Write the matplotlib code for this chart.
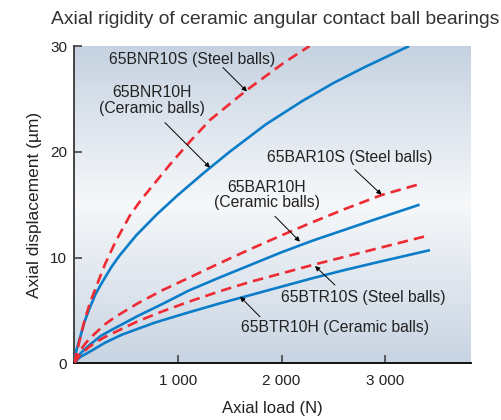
import numpy as np
import matplotlib
matplotlib.use("Agg")
import matplotlib.pyplot as plt
from matplotlib.colors import LinearSegmentedColormap

plt.rcParams['font.family'] = ['Liberation Sans', 'DejaVu Sans']

# ---- data (axial load N, axial displacement um) ----
bnr10h_x = [0, 25, 60, 100, 150, 210, 280, 360, 440, 600, 800, 1000, 1250, 1500, 1850, 2200, 2500, 2800, 3230]
bnr10h_y = [0, 1.3, 2.5, 3.9, 5.2, 6.6, 7.8, 9.1, 10.2, 12.1, 14.1, 15.9, 18.0, 20.0, 22.6, 24.8, 26.5, 28.0, 30.0]

bnr10s_x = [0, 40, 100, 150, 200, 300, 400, 540, 650, 925, 1120, 1310, 1660, 2020, 2270]
bnr10s_y = [0, 1.6, 4.0, 5.6, 6.9, 9.4, 11.5, 14.0, 15.5, 18.8, 21.0, 23.0, 25.8, 28.4, 30.0]

bar10s_x = [0, 50, 120, 200, 300, 400, 620, 850, 1100, 1400, 1700, 2000, 2300, 2600, 2960, 3350]
bar10s_y = [0, 1.1, 2.0, 2.8, 3.7, 4.4, 5.7, 6.9, 8.05, 9.45, 10.8, 12.1, 13.35, 14.55, 15.9, 17.0]

bar10h_x = [0, 50, 100, 170, 260, 370, 620, 850, 1100, 1400, 1700, 2000, 2300, 2600, 2900, 3330]
bar10h_y = [0, 0.8, 1.3, 1.9, 2.6, 3.2, 4.5, 5.6, 6.85, 8.1, 9.3, 10.5, 11.6, 12.6, 13.6, 15.0]

btr10s_x = [0, 60, 140, 220, 300, 620, 850, 1100, 1400, 1700, 2000, 2300, 2600, 2900, 3380]
btr10s_y = [0, 0.8, 1.5, 2.05, 2.5, 4.0, 4.9, 5.8, 6.8, 7.7, 8.5, 9.3, 10.05, 10.8, 12.0]

btr10h_x = [0, 60, 170, 300, 460, 780, 1100, 1400, 1700, 2000, 2300, 2600, 2900, 3430]
btr10h_y = [0, 0.6, 1.2, 1.95, 2.7, 3.85, 4.8, 5.65, 6.45, 7.25, 8.05, 8.8, 9.5, 10.7]

x_ticks = [1000, 2000, 3000]
x_tick_labels = ['1 000', '2 000', '3 000']
y_ticks = [0, 10, 20, 30]

BLUE = '#0b7dc8'
RED = '#ee2a33'

fig = plt.figure(figsize=(5.01, 4.20), dpi=100)
ax = fig.add_axes([74/501, 1-363.3/420, (471-74)/501, (363.3-46)/420])

# gradient background
cmap = LinearSegmentedColormap.from_list('bg', [(0, '#c8d4e2'), (0.5, '#f6f8fa'), (1, '#c6d2e1')])
grad = np.linspace(0, 1, 256).reshape(-1, 1)
ax.imshow(grad, extent=[0, 1, 0, 1], transform=ax.transAxes, aspect='auto',
          cmap=cmap, zorder=0, origin='lower')

lw = 1.9
for xs, ys in [(bnr10h_x, bnr10h_y), (bar10h_x, bar10h_y), (btr10h_x, btr10h_y)]:
    ax.plot(xs, ys, color=BLUE, lw=lw, zorder=3, solid_capstyle='butt',
            solid_joinstyle='round')
for xs, ys in [(bnr10s_x, bnr10s_y), (bar10s_x, bar10s_y), (btr10s_x, btr10s_y)]:
    ax.plot(xs, ys, color=RED, lw=lw, dashes=(4, 2.3), zorder=4)

ax.set_xlim(0, 3825)
ax.set_ylim(0, 30)
ax.set_xticks(x_ticks)
ax.set_xticklabels(x_tick_labels)
ax.set_yticks(y_ticks)

for s in ['top', 'right']:
    ax.spines[s].set_visible(False)
ax.spines['left'].set_color('#444444')
ax.spines['left'].set_linewidth(1.4)
ax.spines['bottom'].set_color('#111111')
ax.spines['bottom'].set_linewidth(1.4)
ax.tick_params(axis='both', direction='in', length=5.5, width=1.2, color='#444444',
               labelsize=11, labelcolor='#222222')
ax.tick_params(axis='x', pad=8)
ax.tick_params(axis='y', pad=5)

ax.set_xlabel('Axial load (N)', fontsize=12, color='#222222', labelpad=9)
ax.set_ylabel('Axial displacement (µm)', fontsize=12.5, color='#222222', labelpad=6)

fig.text(51/501, 1-20/420, 'Axial rigidity of ceramic angular contact ball bearings',
         fontsize=13.9, color='#333333', ha='left', va='center')

tfs = 11.3
tc = '#222222'
texts = [
    (1137, 28.7, '65BNR10S (Steel balls)'),
    (751, 24.84, '65BNR10H\n(Ceramic balls)'),
    (2659, 19.45, '65BAR10S (Steel balls)'),
    (1859, 15.9, '65BAR10H\n(Ceramic balls)'),
    (2784, 6.18, '65BTR10S (Steel balls)'),
    (2514, 3.34, '65BTR10H (Ceramic balls)'),
]
for x, y, t in texts:
    ax.text(x, y, t, fontsize=tfs, color=tc, ha='center', va='center',
            multialignment='center', linespacing=1.05, zorder=6)

arrows = [
    ((1435, 27.96), (1667, 25.7)),
    ((877, 22.75), (1310, 18.5)),
    ((2707, 18.3), (2964, 15.94)),
    ((1936, 13.9), (2177, 11.5)),
    ((2514, 7.4), (2322, 9.2)),
    ((1792, 4.4), (1600, 6.3)),
]
for tail, tip in arrows:
    ax.annotate('', xy=tip, xytext=tail,
                arrowprops=dict(arrowstyle='-|>', lw=0.7, color='black',
                                mutation_scale=7, shrinkA=0, shrinkB=0),
                zorder=7)

fig.savefig('out.png', dpi=100)
